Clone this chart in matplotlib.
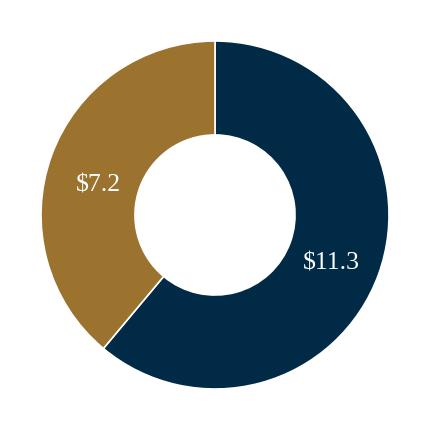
import matplotlib
matplotlib.use('Agg')
import matplotlib.pyplot as plt

# 数据
labels = ['$11.3', '$7.2']
values = [11.3, 7.2]
colors = ['#002A45', '#9B722E']

plt.rcParams['font.family'] = ['Liberation Serif', 'DejaVu Serif']

fig = plt.figure(figsize=(4.3, 4.3), dpi=100)
ax = fig.add_axes([0, 0, 1, 1])

wedges, texts = ax.pie(values, colors=colors, startangle=90, counterclock=False,
                       radius=1.0, labels=labels, labeldistance=0.71,
                       wedgeprops=dict(width=0.54, edgecolor='white', linewidth=1.2),
                       textprops=dict(color='white', fontsize=18.5, ha='center', va='center'))

# 微调标签位置
nudges = [(0.0, -0.035), (0.0, -0.075)]
for t, (dx, dy) in zip(texts, nudges):
    x, y = t.get_position()
    t.set_position((x + dx, y + dy))

lim = 215 / 174
ax.set_xlim(-lim, lim)
ax.set_ylim(-lim, lim)
ax.set_aspect('equal')
ax.axis('off')

plt.savefig('out.png', dpi=100, facecolor='white')
